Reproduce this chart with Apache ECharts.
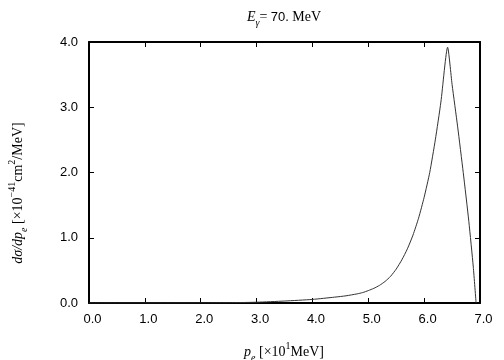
<!DOCTYPE html>
<html>
<head>
<meta charset="utf-8">
<script src="https://cdn.jsdelivr.net/npm/echarts@6/dist/echarts.min.js"></script>
<style>
html,body{margin:0;padding:0;background:#fff;}
#chart{width:504px;height:360px;}
</style>
</head>
<body>
<div id="chart"></div>
<script>
// electron momentum, x10^1 MeV
var pe = [0.0, 1.0, 2.0, 2.5, 3.0, 3.5, 4.0, 4.4, 4.6, 4.8, 4.9, 5.0, 5.1, 5.2, 5.3, 5.4, 5.5, 5.6, 5.7, 5.8, 5.9, 6.0, 6.1, 6.2, 6.3, 6.42, 6.5, 6.6, 6.7, 6.8, 6.88, 6.93];
// dsigma/dpe, x10^-41 cm^2/MeV
var dsig = [0.0, 0.0, 0.001, 0.004, 0.012, 0.03, 0.055, 0.09, 0.11, 0.14, 0.16, 0.19, 0.225, 0.27, 0.33, 0.41, 0.52, 0.66, 0.83, 1.04, 1.3, 1.62, 2.0, 2.5, 3.08, 3.92, 3.35, 2.7, 2.0, 1.25, 0.55, 0.0];
var xTicks = [0, 1, 2, 3, 4, 5, 6, 7];
var yTicks = [0, 1, 2, 3, 4];

var points = pe.map(function(v, i){ return [v, dsig[i]]; });

var myChart = echarts.init(document.getElementById('chart'));

var serif = '"Liberation Serif", "DejaVu Serif", serif';
var sans = '"Liberation Sans", Arial, sans-serif';

// rich styles for graphic text (zrender names)
var rich = {
    i: {fontFamily: serif, fontStyle: 'italic', fontSize: 14, fill: '#000'},
    n: {fontFamily: serif, fontSize: 14, fill: '#000'},
    ns: {fontFamily: sans, fontSize: 13, fill: '#000'},
    sub: {fontFamily: serif, fontStyle: 'italic', fontSize: 10, fill: '#000', verticalAlign: 'bottom', lineHeight: 22},
    sup: {fontFamily: serif, fontSize: 10, fill: '#000', verticalAlign: 'top', lineHeight: 22}
};

var tickStyle = {show: true, inside: true, length: 5, lineStyle: {color: '#000', width: 1}};
var lineStyleAxis = {show: true, onZero: false, lineStyle: {color: '#000', width: 2}};

var option = {
    backgroundColor: '#fff',
    animation: false,
    grid: {
        left: 89,
        right: 24,
        top: 42,
        bottom: 57,
        containLabel: false,
        outerBoundsMode: 'none'
    },
    graphic: [
        {
            type: 'text',
            x: 284, y: 17,
            style: {
                text: '{i|E}{sub|γ}{n|= }{ns|70.}{n| MeV}',
                rich: rich, align: 'center', verticalAlign: 'middle'
            }
        },
        {
            type: 'text',
            x: 284, y: 352,
            style: {
                text: '{i|p}{sub|e}{n| [×10}{sup|1}{n|MeV]}',
                rich: rich, align: 'center', verticalAlign: 'middle'
            }
        },
        {
            type: 'text',
            x: 18, y: 193,
            rotation: Math.PI / 2,
            style: {
                text: '{i|dσ/dp}{sub|e}{n| [×10}{sup|−41}{n|cm}{sup|2}{n|/MeV]}',
                rich: rich, align: 'center', verticalAlign: 'middle'
            }
        }
    ],
    xAxis: [
        {
            type: 'value',
            min: 0,
            max: 7,
            interval: 1,
            position: 'bottom',
            axisLine: lineStyleAxis,
            axisTick: tickStyle,
            splitLine: {show: false},
            axisLabel: {
                color: '#000', fontFamily: sans, fontSize: 13, margin: 10,
                padding: [0, 0, 0, 7],
                formatter: function(v){ return v.toFixed(1); }
            }
        },
        {
            type: 'value',
            min: 0,
            max: 7,
            interval: 1,
            position: 'top',
            axisLine: lineStyleAxis,
            axisTick: tickStyle,
            axisLabel: {show: false},
            splitLine: {show: false}
        }
    ],
    yAxis: [
        {
            type: 'value',
            min: 0,
            max: 4,
            interval: 1,
            position: 'left',
            axisLine: lineStyleAxis,
            axisTick: tickStyle,
            splitLine: {show: false},
            axisLabel: {
                color: '#000', fontFamily: sans, fontSize: 13, margin: 11,
                formatter: function(v){ return v.toFixed(1); }
            }
        },
        {
            type: 'value',
            min: 0,
            max: 4,
            interval: 1,
            position: 'right',
            axisLine: lineStyleAxis,
            axisTick: tickStyle,
            axisLabel: {show: false},
            splitLine: {show: false}
        }
    ],
    series: [
        {
            type: 'line',
            data: points,
            showSymbol: false,
            smooth: 0.2,
            lineStyle: {color: '#333', width: 1},
            clip: true
        }
    ]
};

myChart.setOption(option);
</script>
</body>
</html>
